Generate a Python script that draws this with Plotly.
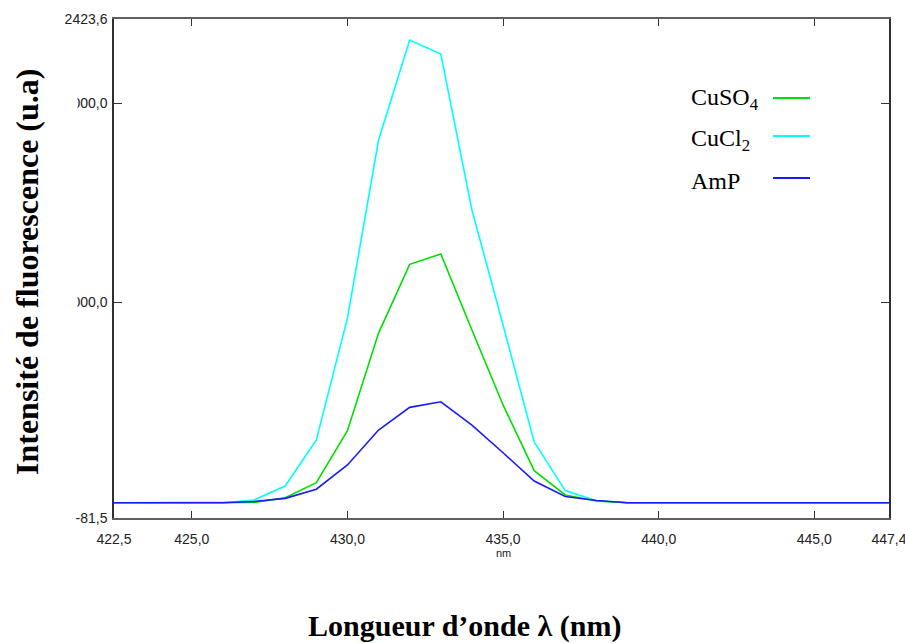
import plotly.graph_objects as go

# Emission spectra (fluorescence intensity, arbitrary units) vs wavelength in nm
wavelength = [422, 423, 424, 425, 426, 427, 428, 429, 430, 431, 432, 433, 434,
              435, 436, 437, 438, 439, 440, 441, 442, 443, 444, 445, 446, 447, 448]
cucl2 = [-5, -5, -5, -5, -5, 9, 79, 310, 922, 1816, 2318, 2248, 1465,
         887, 300, 56, 5, -5, -5, -5, -5, -5, -5, -5, -5, -5, -5]
cuso4 = [-5, -5, -5, -5, -5, -3, 20, 96, 357, 847, 1192, 1244, 862,
         486, 156, 34, 4, -5, -5, -5, -5, -5, -5, -5, -5, -5, -5]
amp = [-5, -5, -5, -5, -5, 1, 17, 63, 185, 360, 474, 502, 385,
       246, 104, 26, 6, -5, -5, -5, -5, -5, -5, -5, -5, -5, -5]

series_names = ["CuSO<sub>4</sub>", "CuCl<sub>2</sub>", "AmP"]
series_colors = ["#00e000", "#00ffff", "#1a1aff"]

x_tickvals = [422.5, 425, 430, 435, 440, 445, 447.4]
x_ticktext = ["422,5", "425,0", "430,0", "435,0", "440,0", "445,0", "447,4"]
y_tickvals = [-81.5, 1000, 2000, 2423.6]
y_ticktext = ["-81,5", "1000,0", "2000,0", "2423,6"]

W, H = 905, 643
L, R, T, B = 114, 16, 19, 125
pw, ph = W - L - R, H - T - B


def px(xp):
    return (xp - L) / pw


def py(yp):
    return (H - B - yp) / ph


fig = go.Figure()
for name, vals, col in [(series_names[1], cucl2, series_colors[1]),
                        (series_names[0], cuso4, series_colors[0]),
                        (series_names[2], amp, series_colors[2])]:
    fig.add_trace(go.Scatter(x=wavelength, y=vals, mode="lines", name=name,
                             line=dict(color=col, width=1.6), showlegend=False))

tick_font = dict(family="Liberation Sans, Arial, sans-serif", size=14, color="#222")

fig.update_layout(
    width=W, height=H,
    margin=dict(l=L, r=R, t=T, b=B),
    paper_bgcolor="white", plot_bgcolor="white",
    xaxis=dict(range=[422.5, 447.4001], tickvals=x_tickvals, ticktext=x_ticktext,
               ticks="inside", ticklen=7, tickcolor="#333", tickwidth=1.2,
               showline=True, linecolor="#606060", linewidth=2, mirror="ticks",
               showgrid=False, zeroline=False, tickfont=tick_font,
               ticklabelstandoff=7, ticklabeloverflow="allow", automargin=False),
    yaxis=dict(range=[-81.5, 2423.6], tickvals=y_tickvals, ticktext=y_ticktext,
               ticks="inside", ticklen=8, tickcolor="#333", tickwidth=1.2,
               showline=True, linecolor="#303030", linewidth=1.5, mirror="ticks",
               showgrid=False, zeroline=False, tickfont=tick_font,
               ticklabelstandoff=2, ticklabeloverflow="allow", automargin=False),
)

# Narrow white band that trims the left edge of the inner y labels
for yc in (1000, 2000):
    fig.add_shape(type="rect", xref="paper", yref="y", layer="above",
                  x0=px(55), x1=px(77.5), y0=yc - 50, y1=yc + 50,
                  fillcolor="white", line=dict(width=0))

# Legend: label on the left, line sample on the right
legend_text_y = [99, 140, 181]
legend_line_y = [98, 136, 178]
for name, col, ty, ly in zip(series_names, series_colors, legend_text_y, legend_line_y):
    fig.add_annotation(xref="paper", yref="paper", x=px(689), y=py(ty),
                       xanchor="left", yanchor="middle", showarrow=False, text=name,
                       font=dict(family="Liberation Serif, Times New Roman, serif",
                                 size=24, color="black"))
    fig.add_shape(type="line", xref="paper", yref="paper",
                  x0=px(773), x1=px(810), y0=py(ly), y1=py(ly),
                  line=dict(color=col, width=2))

# Axis titles
fig.add_annotation(xref="x", yref="paper", x=435, y=py(553), showarrow=False,
                   text="nm", xanchor="center", yanchor="middle",
                   font=dict(family="Liberation Sans, Arial, sans-serif", size=11, color="#222"))
fig.add_annotation(xref="paper", yref="paper", x=px(464), y=py(626), showarrow=False,
                   text="<b>Longueur d\u2019onde \u03bb (nm)</b>",
                   xanchor="center", yanchor="middle",
                   font=dict(family="Liberation Serif, Times New Roman, serif", size=30, color="black"))
fig.add_annotation(xref="paper", yref="paper", x=px(27), y=py(272), showarrow=False,
                   text="<b>Intensit\u00e9 de fluorescence (u.a)</b>", textangle=-90,
                   xanchor="center", yanchor="middle",
                   font=dict(family="Liberation Serif, Times New Roman, serif", size=32, color="black"))

fig.write_html("out.html")
